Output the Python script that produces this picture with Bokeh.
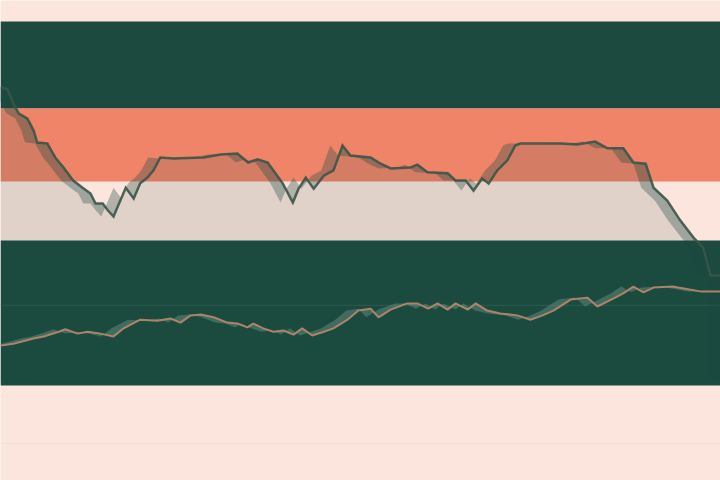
from bokeh.plotting import figure
from bokeh.models import Range1d, BoxAnnotation, Span
from bokeh.embed import file_html
from bokeh.resources import INLINE

# ---- data (time index 0-100, value scale 0-100) ----
upper_t = [0, 0.97, 1.8, 2.5, 3.75, 4.6, 5.1, 6.5, 7.6, 8.75, 10.1, 11.4, 12.5, 13.2, 14.2, 14.9,
           15.7, 17.4, 18.5, 19.4, 20.4, 21.25, 22.2, 24.0, 28.2, 30.6, 32.9, 34.4, 35.7, 37.1,
           39.2, 40.6, 41.4, 42.4, 43.5, 44.9, 46.25, 47.5, 48.6, 51.4, 52.8, 54.2, 56.9, 57.9,
           59.3, 62.1, 63.2, 64.6, 65.7, 66.9, 67.8, 69.0, 70.4, 71.5, 72.2, 75.0, 77.8, 80.1,
           82.6, 84.3, 86.5, 87.9, 89.6, 90.7, 92.6, 94.4, 96.25, 97.6, 98.6, 100]
upper_v = [81.9, 81.5, 78.5, 76.5, 75.4, 72.9, 70.4, 70.2, 67.3, 65.2, 62.5, 61.0, 59.8, 57.7, 57.7, 56.3,
           55.0, 61.0, 58.75, 61.9, 63.1, 64.6, 67.3, 67.1, 67.3, 67.9, 68.1, 66.25, 66.9, 66.25,
           61.9, 57.9, 60.8, 63.1, 60.8, 63.5, 64.6, 69.8, 67.7, 67.3, 66.0, 65.0, 65.2, 65.8,
           64.2, 64.0, 62.5, 62.5, 60.4, 62.9, 61.9, 64.6, 66.7, 69.8, 70.2, 70.2, 70.2, 70.0,
           70.6, 69.2, 69.2, 66.25, 66.0, 61.0, 58.3, 54.2, 50.6, 48.5, 42.7, 42.7]

lower_t = [0, 1.8, 4.6, 6.0, 8.1, 9.0, 10.7, 12.1, 13.9, 15.7, 17.1, 19.4, 21.8, 23.6, 25.0, 26.4,
           27.8, 29.6, 31.5, 32.9, 34.3, 35.1, 36.5, 37.9, 39.3, 40.7, 41.9, 43.3, 44.9, 46.25,
           48.2, 49.7, 51.4, 52.5, 54.2, 56.5, 57.9, 59.4, 60.7, 62.1, 63.2, 64.9, 66.0, 67.6,
           69.4, 71.8, 73.6, 75.3, 76.8, 79.2, 81.5, 82.9, 85.1, 86.5, 87.9, 89.3, 90.7, 93.3,
           94.9, 97.2, 100]
lower_v = [28.1, 28.5, 29.6, 30.0, 31.0, 31.5, 30.6, 31.0, 30.6, 30.0, 31.7, 33.5, 33.3, 33.75, 32.9, 34.4,
           34.6, 34.0, 32.9, 32.7, 31.9, 32.7, 31.7, 31.0, 31.25, 30.4, 31.7, 30.2, 31.0, 31.7,
           33.5, 35.4, 35.8, 34.0, 35.6, 36.9, 36.9, 35.8, 36.9, 35.6, 36.9, 35.6, 36.9, 35.4,
           34.8, 34.4, 33.5, 34.4, 35.4, 37.7, 38.1, 36.25, 37.9, 39.0, 40.4, 39.2, 40.2, 40.4,
           40.0, 39.4, 39.4]

# horizontal bands (top, bottom, colour)
band_top = [95.6, 77.5, 50.0]
band_bottom = [77.5, 62.3, 19.8]
band_color = ["#1c4a3f", "#ef8469", "#1c4a3f"]
grid_levels = [36.5, 7.7]

BASE = 20.8        # fill baseline
SHIFT = 1.7        # shadow offset in time units

PEACH = "#fce5dc"

p = figure(width=720, height=480, output_backend="svg", toolbar_location=None,
           x_range=Range1d(0, 100), y_range=Range1d(0, 100),
           min_border=0, outline_line_color=None,
           background_fill_color=PEACH, border_fill_color=PEACH)
p.axis.visible = False
p.grid.visible = False

for top, bot, col in zip(band_top, band_bottom, band_color):
    p.add_layout(BoxAnnotation(top=top, bottom=bot, fill_color=col, fill_alpha=1.0,
                               line_color=None, level="underlay"))

p.add_layout(Span(location=grid_levels[0], dimension="width", line_color="#356558",
                  line_width=1, line_alpha=0.8, level="underlay"))
p.add_layout(Span(location=grid_levels[1], dimension="width", line_color="#f2ddd4",
                  line_width=1, line_alpha=0.8, level="underlay"))

# upper series: area under the line
p.varea(x=upper_t, y1=BASE, y2=upper_v, fill_color="#1c4a3f", fill_alpha=0.12)

# upper series: shadow ribbon between line and its offset copy
sh_t = [t - SHIFT for t in upper_t]
rib_x = upper_t + [upper_t[-1], sh_t[-1]] + sh_t[::-1]
rib_y = upper_v + [BASE, BASE] + upper_v[::-1]
p.patch(x=rib_x, y=rib_y, fill_color="#1c4a3f", fill_alpha=0.33, line_color=None)

p.line(x=upper_t, y=upper_v, line_color="#3a5548", line_width=2.5, line_alpha=0.9,
       line_join="miter")

# lower series
lsh_t = [t - SHIFT for t in lower_t]
lrib_x = lower_t + lsh_t[::-1]
lrib_y = lower_v + lower_v[::-1]
p.patch(x=lrib_x, y=lrib_y, fill_color="#8aa89b", fill_alpha=0.35, line_color=None)
p.line(x=lower_t, y=lower_v, line_color="#b3866c", line_width=2, line_alpha=0.95)

open("out.html", "w").write(file_html(p, INLINE))
